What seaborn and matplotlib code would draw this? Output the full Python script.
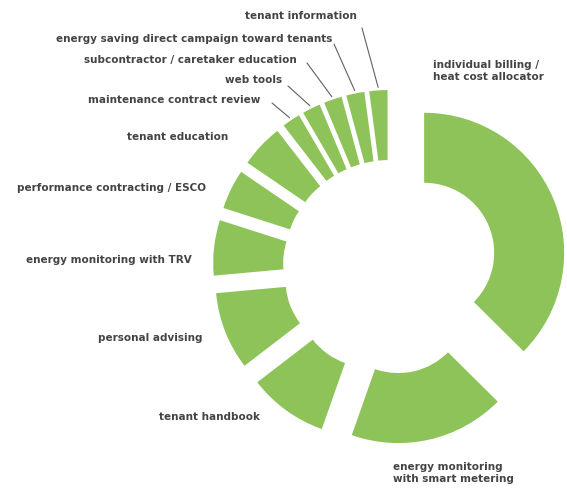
import matplotlib
matplotlib.use("Agg")
import matplotlib.pyplot as plt
import seaborn as sns
import numpy as np

# ---- data ----
categories = [
    "individual billing /\nheat cost allocator",
    "energy monitoring\nwith smart metering",
    "tenant handbook",
    "personal advising",
    "energy monitoring with TRV",
    "performance contracting / ESCO",
    "tenant education",
    "maintenance contract review",
    "web tools",
    "subcontractor / caretaker education",
    "energy saving direct campaign toward tenants",
    "tenant information",
]
shares = [37.5, 18.0, 9.2, 9.0, 6.4, 4.6, 5.0, 2.1, 2.1, 2.1, 2.1, 2.1]

# ---- layout (pixel positions of labels, y measured from top) ----
label_pos = [
    (433, 71, "left"),
    (393, 473, "left"),
    (260, 417, "right"),
    (203, 338, "right"),
    (192, 260, "right"),
    (206, 188, "right"),
    (228, 137, "right"),
    (260, 100, "right"),
    (282, 80, "right"),
    (297, 60, "right"),
    (332, 39, "right"),
    (357, 16, "right"),
]
leader_start = {7: (272, 103), 8: (288, 86), 9: (307, 63), 10: (334, 44), 11: (362, 28)}

W, H = 567, 490
sns.set_theme(style="white")
plt.rcParams["font.family"] = ["DejaVu Sans"]

fig = plt.figure(figsize=(W / 100, H / 100), dpi=100)
ax = fig.add_axes([0, 0, 1, 1])

green = sns.color_palette(["#8dc358"])[0]
n = len(shares)
cx, cy = 390, H - 267
R, ring, expl = 140, 70, 37

wedges, _ = ax.pie(
    shares,
    colors=[green] * n,
    startangle=90,
    counterclock=False,
    radius=R,
    center=(cx, cy),
    explode=[expl] * n,
    wedgeprops=dict(width=ring, linewidth=0),
)
ax.set_xlim(0, W)
ax.set_ylim(0, H)
ax.set_aspect("equal")
ax.axis("off")

txt_color = "#444444"
for i, (lab, (x, y, ha)) in enumerate(zip(categories, label_pos)):
    ax.text(x, H - y, lab, ha=ha, va="center", fontsize=7.5, fontweight="bold",
            color=txt_color, linespacing=1.2)
    if i in leader_start:
        w = wedges[i]
        tm = np.deg2rad(0.5 * (w.theta1 + w.theta2))
        ex = w.center[0] + (w.r + 3) * np.cos(tm)
        ey = w.center[1] + (w.r + 3) * np.sin(tm)
        sx, sy = leader_start[i]
        ax.plot([sx, ex], [H - sy, ey], color="#606060", lw=0.8)

fig.savefig("out.png", dpi=100)
